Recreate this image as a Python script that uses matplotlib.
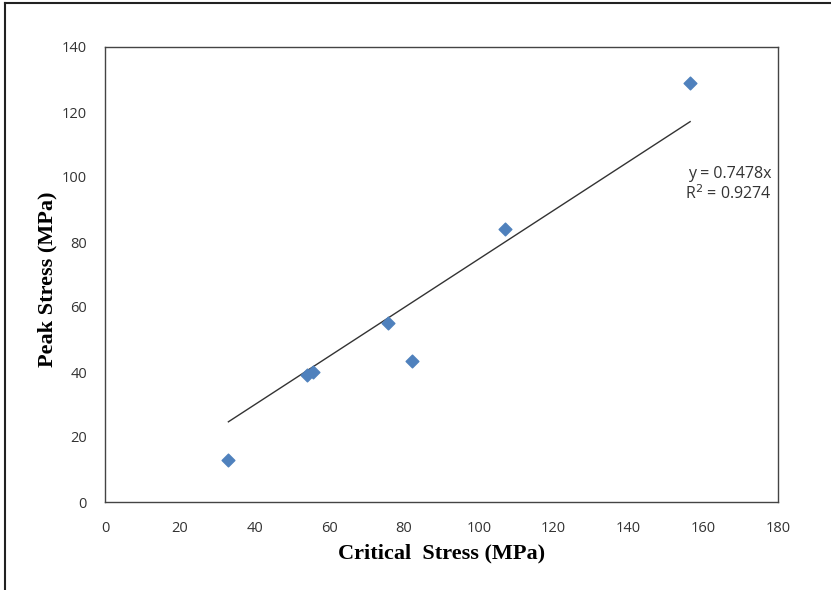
import numpy as np
import matplotlib.pyplot as plt

# Critical vs peak stress values
critical_stress = [33, 54, 55.5, 75.7, 82, 107, 156.5]
peak_stress = [13, 39, 40, 55, 43.5, 84, 129]
slope = 0.7478
r2 = 0.9274

x_ticks = [0, 20, 40, 60, 80, 100, 120, 140, 160, 180]
y_ticks = [0, 20, 40, 60, 80, 100, 120, 140]

fig = plt.figure(figsize=(8.31, 5.9), dpi=100)
ax = fig.add_axes([105 / 831, 1 - 502 / 590, 673 / 831, 455 / 590])

# outer chart border (top and left edges visible)
fig.add_artist(plt.Line2D([5 / 831, 1], [1 - 3 / 590, 1 - 3 / 590], color='#222222', lw=1.5))
fig.add_artist(plt.Line2D([5 / 831, 5 / 831], [0, 1 - 3 / 590], color='#222222', lw=1.5))

ax.scatter(critical_stress, peak_stress, marker='D', s=42, color='#4F81BD', zorder=3)

# linear trendline through origin
xt = np.array([min(critical_stress), max(critical_stress)])
ax.plot(xt, slope * xt, color='#333333', lw=1)

ax.text(772 / 831, 1 - 174 / 590, f'y = {slope}x', transform=fig.transFigure,
        ha='right', va='center', fontsize=11.5, family='Open Sans', color='#333333')
ax.text(772 / 831, 1 - 194 / 590, f'R$^2$ = {r2}', transform=fig.transFigure,
        ha='right', va='center', fontsize=11.5, family='Open Sans', color='#333333')

ax.set_xlim(0, 180)
ax.set_ylim(0, 140)
ax.set_xticks(x_ticks)
ax.set_yticks(y_ticks)
ax.tick_params(length=0, labelsize=10.5, labelcolor='#333333')
ax.tick_params(axis='x', pad=14)
ax.tick_params(axis='y', pad=13)
for lbl in ax.get_xticklabels() + ax.get_yticklabels():
    lbl.set_family('Open Sans')
for s in ax.spines.values():
    s.set_color('#444444')
    s.set_linewidth(1)

ax.set_xlabel('Critical  Stress (MPa)', family='Liberation Serif', fontweight='bold',
              fontsize=16, va='center')
ax.set_ylabel('Peak Stress (MPa)', family='Liberation Serif', fontweight='bold',
              fontsize=16, va='center')
ax.xaxis.set_label_coords(0.5, (502 - 553) / 455)
ax.yaxis.set_label_coords((47 - 105) / 673, 0.49)

fig.savefig('out.png', dpi=100)
